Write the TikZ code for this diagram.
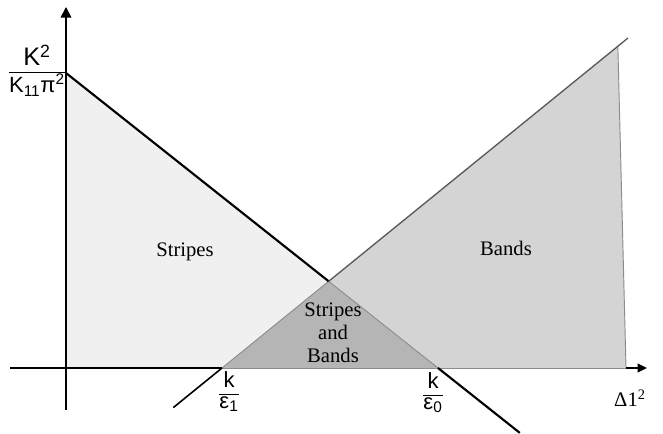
\documentclass[tikz,border=0pt]{standalone}
\usepackage{fontspec}
\setmainfont{Liberation Serif}
\newfontfamily\lsans{Liberation Sans}
\usetikzlibrary{arrows.meta,calc}
\definecolor{stripefill}{gray}{0.94}
\definecolor{bandfill}{gray}{0.83}
\definecolor{overlapfill}{gray}{0.71}
\begin{document}
\begin{tikzpicture}[x=0.75pt,y=-0.75pt,
  axis/.style={line width=1.3pt, black},
  bound/.style={line width=1.6pt, black},
  edge/.style={line width=0.7pt, black!45},
  region/.style={font=\fontsize{15.5}{17.3}\selectfont, align=center, inner sep=0pt},
  sanslab/.style={font=\lsans\fontsize{16.5}{17}\selectfont, inner sep=0pt}]
\useasboundingbox (0,0) rectangle (663,434);
\coordinate (O) at (66,368);
\coordinate (Ytop) at (66,7);
\coordinate (Ybot) at (66,410);
\coordinate (Xl) at (10,368);
\coordinate (Xr) at (647,368);
\coordinate (A) at (66,73);
\coordinate (E1) at (222,368);
\coordinate (E0) at (438,368);
\coordinate (T) at (628,38);
\coordinate (P) at (intersection of A--E0 and E1--T);
\coordinate (D) at ($(A)!1.22!(E0)$);
\coordinate (L) at ($(T)!1.12!(E1)$);
\coordinate (FT) at ($(E1)!0.975!(T)$);
\coordinate (FB) at (626,368);
% regions
\fill[stripefill] (A) -- (P) -- (E1) -- (O) -- cycle;
\fill[overlapfill] (E1) -- (P) -- (E0) -- cycle;
\fill[bandfill] (P) -- (FT) -- (FB) -- (E0) -- cycle;
\draw[edge] (E1) -- (P) -- (E0);
\draw[edge] (FT) -- (FB);
% axes
\draw[axis] (Xl) -- (E1);
\draw[edge] (E1) -- (FB);
\draw[axis,-{Triangle[length=7pt,width=6.5pt]}] (FB) -- (Xr);
\draw[axis,-{Triangle[length=8pt,width=8pt]}] (Ybot) -- (Ytop);
% boundary lines
\draw[bound] (A) -- (P);
\draw[bound] (E0) -- (D);
\draw[line width=1.2pt, black] (L) -- (E1);
\draw[line width=1pt, black!65] (P) -- (T);
% labels
\node[region] (stripes) at (185,252) {Stripes};
\node[region] (bands) at (506,248) {Bands};
\node[region] (both) at (333,333) {Stripes\\and\\Bands};
\node[sanslab] (ylab) at (37,72) {\renewcommand\arraystretch{0.95}\setlength\arrayrulewidth{1pt}\begin{tabular}{@{}c@{}}\fontsize{19}{19}\selectfont K\textsuperscript{2}\\\hline K\textsubscript{11}π\textsuperscript{2}\end{tabular}};
\node[sanslab] (k1) at (229,393) {\renewcommand\arraystretch{0.85}\setlength\arrayrulewidth{0.9pt}\begin{tabular}{@{}c@{}}k\\\hline ε\textsubscript{1}\end{tabular}};
\node[sanslab] (k0) at (433,394) {\renewcommand\arraystretch{0.85}\setlength\arrayrulewidth{0.9pt}\begin{tabular}{@{}c@{}}k\\\hline ε\textsubscript{0}\end{tabular}};
\node[region] (dlab) at (630,398) {Δ1\textsuperscript{2}};
\end{tikzpicture}
\end{document}
